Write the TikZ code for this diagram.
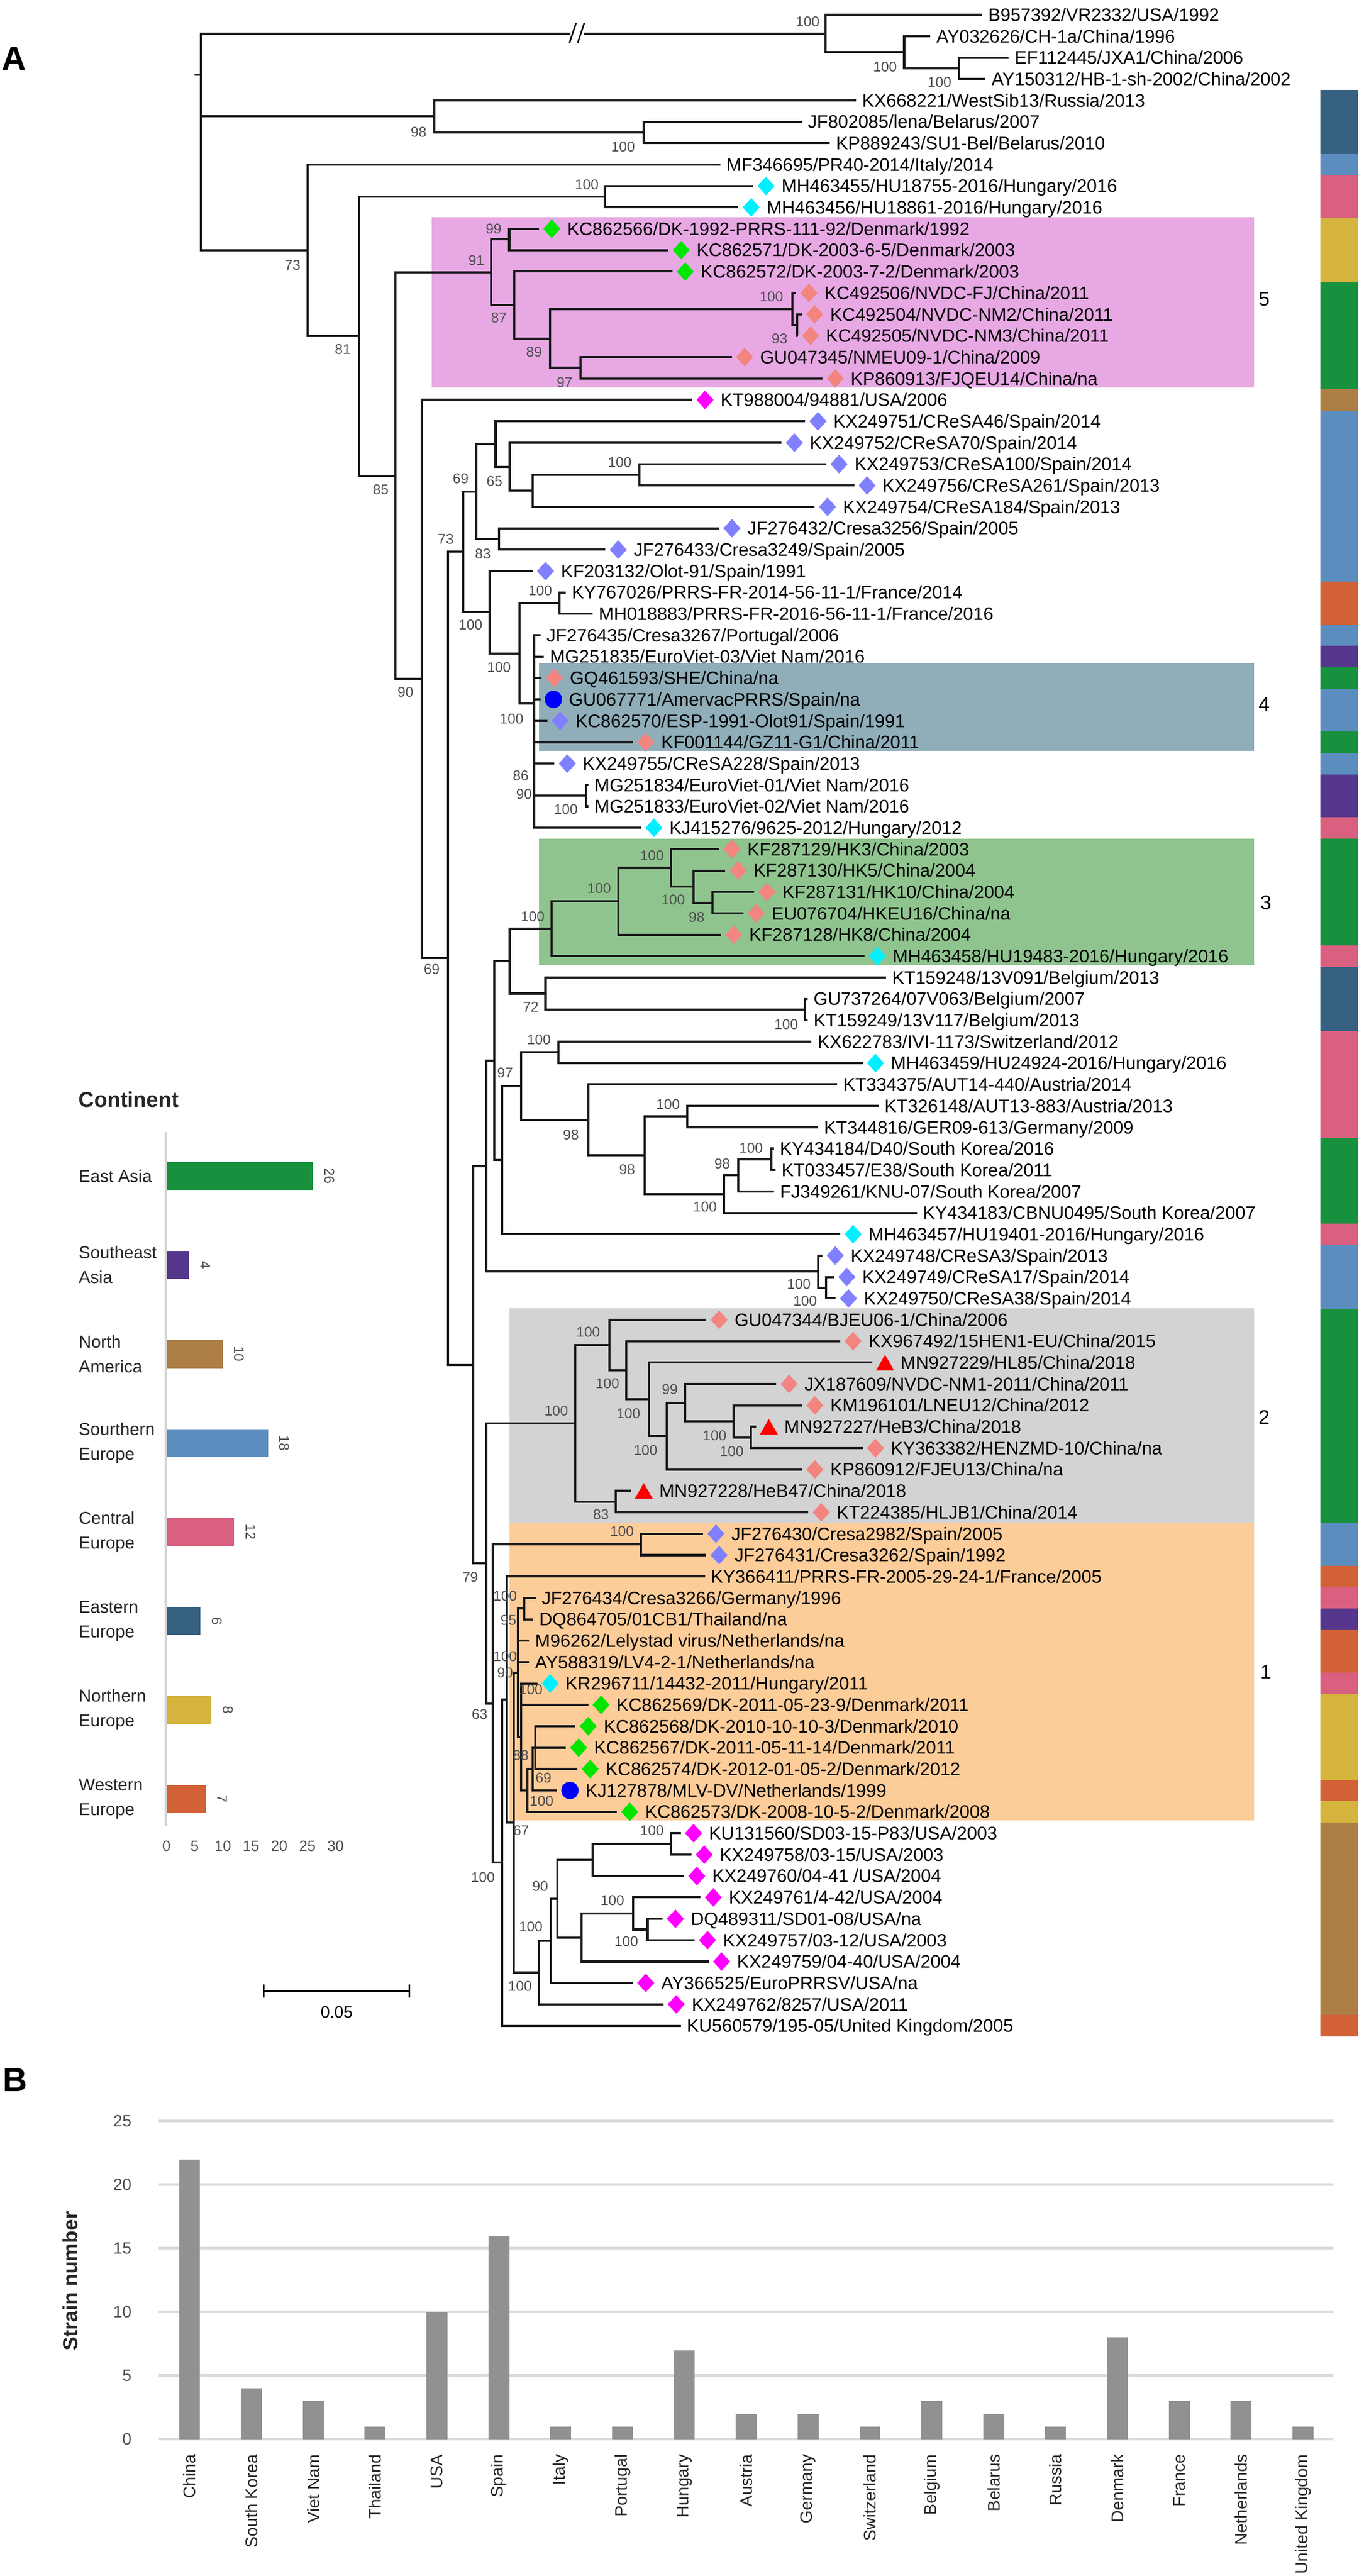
\documentclass[tikz,border=0pt]{standalone}
\usepackage{fontspec}
\setmainfont{Liberation Sans}
\usetikzlibrary{shapes.geometric,calc}
\definecolor{cEA}{RGB}{24,145,62}
\definecolor{cSEA}{RGB}{84,54,141}
\definecolor{cNA}{RGB}{173,126,69}
\definecolor{cSE}{RGB}{91,141,191}
\definecolor{cCE}{RGB}{217,96,127}
\definecolor{cEE}{RGB}{53,96,127}
\definecolor{cNE}{RGB}{212,180,60}
\definecolor{cWE}{RGB}{210,97,54}
\definecolor{boxA}{RGB}{231,168,228}
\definecolor{boxB}{RGB}{143,174,186}
\definecolor{boxC}{RGB}{143,196,143}
\definecolor{boxD}{RGB}{211,211,211}
\definecolor{boxE}{RGB}{252,204,153}
\definecolor{mSal}{RGB}{242,133,128}
\definecolor{mLav}{RGB}{128,128,255}
\definecolor{mCya}{RGB}{0,240,255}
\definecolor{mGrn}{RGB}{0,230,0}
\definecolor{mMag}{RGB}{255,0,255}
\definecolor{bsgray}{RGB}{80,80,80}
\definecolor{barB}{RGB}{145,145,145}
\definecolor{gridB}{RGB}{218,218,218}
\definecolor{axisL}{RGB}{210,210,210}
\pgfmathdeclarefunction{lfy}{1}{\pgfmathparse{9+12.98*(#1-1)}}
\tikzset{
  br/.style={line width=1.3pt, black!90},
  lab/.style={anchor=base west, inner sep=0pt, font=\fontsize{11}{13}\selectfont},
  bs/.style={inner sep=0pt, font=\fontsize{8.6}{10}\selectfont, text=bsgray},
  mdia/.style={diamond, inner sep=0pt, minimum width=10.5pt, minimum height=11.5pt, draw=none},
  msal/.style={mdia, fill=mSal},
  mlav/.style={mdia, fill=mLav},
  mcya/.style={mdia, fill=mCya},
  mgrn/.style={mdia, fill=mGrn},
  mmag/.style={mdia, fill=mMag},
  mcirc/.style={circle, inner sep=0pt, minimum size=10.5pt, fill=blue},
  mtri/.style={regular polygon, regular polygon sides=3, minimum size=12.7pt, inner sep=0pt, fill=red, yshift=-1.6pt},
  cladenum/.style={inner sep=0pt, font=\fontsize{12}{14}\selectfont},
  panel/.style={inner sep=0pt, font=\bfseries\fontsize{20.5}{24}\selectfont},
  leglab/.style={anchor=west, align=left, inner sep=0pt, font=\fontsize{10.5}{15}\selectfont, text=black!85},
  cntlab/.style={rotate=90, anchor=east, inner sep=0pt, font=\fontsize{10.2}{12}\selectfont, text=black!85},
}
\newcommand\TipN[4]{%
  \coordinate (#1) at (#2,{lfy(#3)});
  \node[lab] (#1l) at ([xshift=3.5pt,yshift=-3.9pt]#1) {#4};}
\newcommand\TipM[5]{%
  \coordinate (#1) at (#2,{lfy(#3)});
  \node[#4] (#1m) at ([xshift=7.8pt]#1) {};
  \node[lab] (#1l) at ([xshift=17pt,yshift=-3.9pt]#1) {#5};}
\newcommand\Nd[3]{\coordinate (#1) at (#2,{lfy(#3)});}
\newcommand\Kids[2]{\foreach \cc in {#2} {\draw[br] (#1) |- (\cc);}}
\begin{document}
\begin{tikzpicture}[x=1pt,y=-1pt]
\useasboundingbox (0,0) rectangle (827.3,1563);
\fill[white] (0,0) rectangle (827.3,1563);

% clade boxes
\fill[boxA] (262,{lfy(10.45)}) rectangle (761,{lfy(18.42)});
\fill[boxB] (327,{lfy(31.3)}) rectangle (761,{lfy(35.4)});
\fill[boxC] (327,{lfy(39.5)}) rectangle (761,{lfy(45.4)});
\fill[boxD] (309.3,{lfy(61.45)}) rectangle (761,{lfy(71.5)});
\fill[boxE] (309.3,{lfy(71.5)}) rectangle (761,{lfy(85.4)});
\node[cladenum] (c5) at (767,181.5) {5};
\node[cladenum] (c4) at (767,427.4) {4};
\node[cladenum] (c3) at (768,547.7) {3};
\node[cladenum] (c2) at (767,860) {2};
\node[cladenum] (c1) at (768,1014.3) {1};

% continent strip
\foreach \a/\b/\c in {5/7/cEE,8/8/cSE,9/10/cCE,11/13/cNE,14/18/cEA,19/19/cNA,20/27/cSE,28/29/cWE,30/30/cSE,31/31/cSEA,32/32/cEA,33/34/cSE,35/35/cEA,36/36/cSE,37/38/cSEA,39/39/cCE,40/44/cEA,45/45/cCE,46/48/cEE,49/53/cCE,54/57/cEA,58/58/cCE,59/61/cSE,62/71/cEA,72/73/cSE,74/74/cWE,75/75/cCE,76/76/cSEA,77/78/cWE,79/79/cCE,80/83/cNE,84/84/cWE,85/85/cNE,86/94/cNA,95/95/cWE}
  {\fill[\c] (801,{lfy(\a-0.5)}) rectangle (824,{lfy(\b+0.5)});}

\node[panel] (labA) at (8.5,35.6) {A};

% tips
\TipN{t1}{596}{1}{B957392/VR2332/USA/1992}
\TipN{t2}{564.5}{2}{AY032626/CH-1a/China/1996}
\TipN{t3}{612}{3}{EF112445/JXA1/China/2006}
\TipN{t4}{598}{4}{AY150312/HB-1-sh-2002/China/2002}
\TipN{t5}{519.4}{5}{KX668221/WestSib13/Russia/2013}
\TipN{t6}{486.5}{6}{JF802085/lena/Belarus/2007}
\TipN{t7}{503.5}{7}{KP889243/SU1-Bel/Belarus/2010}
\TipN{t8}{437}{8}{MF346695/PR40-2014/Italy/2014}
\TipM{t9}{457}{9}{mcya}{MH463455/HU18755-2016/Hungary/2016}
\TipM{t10}{448}{10}{mcya}{MH463456/HU18861-2016/Hungary/2016}
\TipM{t11}{327}{11}{mgrn}{KC862566/DK-1992-PRRS-111-92/Denmark/1992}
\TipM{t12}{405.5}{12}{mgrn}{KC862571/DK-2003-6-5/Denmark/2003}
\TipM{t13}{408}{13}{mgrn}{KC862572/DK-2003-7-2/Denmark/2003}
\TipM{t14}{483}{14}{msal}{KC492506/NVDC-FJ/China/2011}
\TipM{t15}{486.5}{15}{msal}{KC492504/NVDC-NM2/China/2011}
\TipM{t16}{484}{16}{msal}{KC492505/NVDC-NM3/China/2011}
\TipM{t17}{444}{17}{msal}{GU047345/NMEU09-1/China/2009}
\TipM{t18}{499}{18}{msal}{KP860913/FJQEU14/China/na}
\TipM{t19}{420}{19}{mmag}{KT988004/94881/USA/2006}
\TipM{t20}{488.5}{20}{mlav}{KX249751/CReSA46/Spain/2014}
\TipM{t21}{474.2}{21}{mlav}{KX249752/CReSA70/Spain/2014}
\TipM{t22}{501.3}{22}{mlav}{KX249753/CReSA100/Spain/2014}
\TipM{t23}{518.3}{23}{mlav}{KX249756/CReSA261/Spain/2013}
\TipM{t24}{494.3}{24}{mlav}{KX249754/CReSA184/Spain/2013}
\TipM{t25}{436.3}{25}{mlav}{JF276432/Cresa3256/Spain/2005}
\TipM{t26}{367.3}{26}{mlav}{JF276433/Cresa3249/Spain/2005}
\TipM{t27}{323.2}{27}{mlav}{KF203132/Olot-91/Spain/1991}
\TipN{t28}{343.3}{28}{KY767026/PRRS-FR-2014-56-11-1/France/2014}
\TipN{t29}{359.6}{29}{MH018883/PRRS-FR-2016-56-11-1/France/2016}
\TipN{t30}{328}{30}{JF276435/Cresa3267/Portugal/2006}
\TipN{t31}{330}{31}{MG251835/EuroViet-03/Viet Nam/2016}
\TipM{t32}{328.6}{32}{msal}{GQ461593/SHE/China/na}
\TipM{t33}{328}{33}{mcirc}{GU067771/AmervacPRRS/Spain/na}
\TipM{t34}{332}{34}{mlav}{KC862570/ESP-1991-Olot91/Spain/1991}
\TipM{t35}{384}{35}{msal}{KF001144/GZ11-G1/China/2011}
\TipM{t36}{336.4}{36}{mlav}{KX249755/CReSA228/Spain/2013}
\TipN{t37}{357}{37}{MG251834/EuroViet-01/Viet Nam/2016}
\TipN{t38}{357}{38}{MG251833/EuroViet-02/Viet Nam/2016}
\TipM{t39}{389}{39}{mcya}{KJ415276/9625-2012/Hungary/2012}
\TipM{t40}{436.3}{40}{msal}{KF287129/HK3/China/2003}
\TipM{t41}{440.1}{41}{msal}{KF287130/HK5/China/2004}
\TipM{t42}{457.6}{42}{msal}{KF287131/HK10/China/2004}
\TipM{t43}{451}{43}{msal}{EU076704/HKEU16/China/na}
\TipM{t44}{437.4}{44}{msal}{KF287128/HK8/China/2004}
\TipM{t45}{524.5}{45}{mcya}{MH463458/HU19483-2016/Hungary/2016}
\TipN{t46}{537.7}{46}{KT159248/13V091/Belgium/2013}
\TipN{t47}{490}{47}{GU737264/07V063/Belgium/2007}
\TipN{t48}{490}{48}{KT159249/13V117/Belgium/2013}
\TipN{t49}{492.4}{49}{KX622783/IVI-1173/Switzerland/2012}
\TipM{t50}{523.4}{50}{mcya}{MH463459/HU24924-2016/Hungary/2016}
\TipN{t51}{507.9}{51}{KT334375/AUT14-440/Austria/2014}
\TipN{t52}{533}{52}{KT326148/AUT13-883/Austria/2013}
\TipN{t53}{496.3}{53}{KT344816/GER09-613/Germany/2009}
\TipN{t54}{469.5}{54}{KY434184/D40/South Korea/2016}
\TipN{t55}{470.5}{55}{KT033457/E38/South Korea/2011}
\TipN{t56}{469.6}{56}{FJ349261/KNU-07/South Korea/2007}
\TipN{t57}{556.3}{57}{KY434183/CBNU0495/South Korea/2007}
\TipM{t58}{509.8}{58}{mcya}{MH463457/HU19401-2016/Hungary/2016}
\TipM{t59}{499}{59}{mlav}{KX249748/CReSA3/Spain/2013}
\TipM{t60}{506}{60}{mlav}{KX249749/CReSA17/Spain/2014}
\TipM{t61}{507}{61}{mlav}{KX249750/CReSA38/Spain/2014}
\TipM{t62}{428.5}{62}{msal}{GU047344/BJEU06-1/China/2006}
\TipM{t63}{509.8}{63}{msal}{KX967492/15HEN1-EU/China/2015}
\TipM{t64}{529.2}{64}{mtri}{MN927229/HL85/China/2018}
\TipM{t65}{471}{65}{msal}{JX187609/NVDC-NM1-2011/China/2011}
\TipM{t66}{486.6}{66}{msal}{KM196101/LNEU12/China/2012}
\TipM{t67}{458.7}{67}{mtri}{MN927227/HeB3/China/2018}
\TipM{t68}{523.4}{68}{msal}{KY363382/HENZMD-10/China/na}
\TipM{t69}{486.6}{69}{msal}{KP860912/FJEU13/China/na}
\TipM{t70}{382.8}{70}{mtri}{MN927228/HeB47/China/2018}
\TipM{t71}{490.5}{71}{msal}{KT224385/HLJB1/China/2014}
\TipM{t72}{426.6}{72}{mlav}{JF276430/Cresa2982/Spain/2005}
\TipM{t73}{428.5}{73}{mlav}{JF276431/Cresa3262/Spain/1992}
\TipN{t74}{427.7}{74}{KY366411/PRRS-FR-2005-29-24-1/France/2005}
\TipN{t75}{325}{75}{JF276434/Cresa3266/Germany/1996}
\TipN{t76}{323.5}{76}{DQ864705/01CB1/Thailand/na}
\TipN{t77}{321}{77}{M96262/Lelystad virus/Netherlands/na}
\TipN{t78}{321}{78}{AY588319/LV4-2-1/Netherlands/na}
\TipM{t79}{326}{79}{mcya}{KR296711/14432-2011/Hungary/2011}
\TipM{t80}{356.9}{80}{mgrn}{KC862569/DK-2011-05-23-9/Denmark/2011}
\TipM{t81}{349.1}{81}{mgrn}{KC862568/DK-2010-10-10-3/Denmark/2010}
\TipM{t82}{343.3}{82}{mgrn}{KC862567/DK-2011-05-11-14/Denmark/2011}
\TipM{t83}{350.3}{83}{mgrn}{KC862574/DK-2012-01-05-2/Denmark/2012}
\TipM{t84}{338}{84}{mcirc}{KJ127878/MLV-DV/Netherlands/1999}
\TipM{t85}{374.3}{85}{mgrn}{KC862573/DK-2008-10-5-2/Denmark/2008}
\TipM{t86}{413}{86}{mmag}{KU131560/SD03-15-P83/USA/2003}
\TipM{t87}{419.5}{87}{mmag}{KX249758/03-15/USA/2003}
\TipM{t88}{415}{88}{mmag}{KX249760/04-41 /USA/2004}
\TipM{t89}{425}{89}{mmag}{KX249761/4-42/USA/2004}
\TipM{t90}{402}{90}{mmag}{DQ489311/SD01-08/USA/na}
\TipM{t91}{421.5}{91}{mmag}{KX249757/03-12/USA/2003}
\TipM{t92}{430}{92}{mmag}{KX249759/04-40/USA/2004}
\TipM{t93}{384}{93}{mmag}{AY366525/EuroPRRSV/USA/na}
\TipM{t94}{402.5}{94}{mmag}{KX249762/8257/USA/2011}
\TipN{t95}{413}{95}{KU560579/195-05/United Kingdom/2005}

% internal nodes
\Nd{root}{122}{3.8}
\Nd{nOg1}{501}{1.875}\Nd{nOg2}{548.6}{2.75}\Nd{nOg3}{582}{3.5}
\Nd{nEE1}{263.4}{5.75}\Nd{nEE2}{390.6}{6.5}
\Nd{n73}{186.6}{12.01}\Nd{n81}{218}{16.02}\Nd{nHu}{367}{9.5}
\Nd{n85}{240}{22.54}\Nd{n91}{298}{13.03}\Nd{n99}{309}{11.5}
\Nd{n87}{312}{14.5625}\Nd{n89}{333.6}{16.125}
\Nd{nNV1}{480.8}{14.75}\Nd{nNV2}{483.5}{15.5}\Nd{n97}{352.2}{17.5}
\Nd{n90}{256}{32.05}\Nd{n69L}{271.7}{45.10}\Nd{n73b}{281}{26.10}
\Nd{n69u}{289}{23.28}\Nd{n65}{300.7}{21.0625}\Nd{nSA}{309.3}{22.125}
\Nd{nSB}{323.2}{23.25}\Nd{nS100}{388}{22.5}\Nd{n83}{302.7}{25.5}
\Nd{nA100}{297}{28.925}\Nd{nB}{315.1}{30.85}\Nd{nFr}{339.5}{28.5}
\Nd{nP}{324}{33.2}\Nd{nMG}{355.7}{37.5}
\Nd{nNa}{287.2}{64.105}\Nd{n705}{295}{54.82}\Nd{n643}{300}{49.887}
\Nd{n582}{309.3}{45.235}\Nd{nC3}{334.8}{43.72}\Nd{nHK1}{375.1}{42.4375}
\Nd{nHK2}{407.2}{40.875}\Nd{nHK3}{420.8}{41.75}\Nd{nHK4}{432.4}{42.5}
\Nd{nBe1}{331}{46.75}\Nd{nBe2}{488.5}{47.5}
\Nd{n704}{304.6}{54.539}\Nd{n658}{316.2}{51.078}\Nd{nSw}{338.7}{49.5}
\Nd{n680}{356.9}{52.656}\Nd{nAK}{391}{54.3125}\Nd{nAu}{416.9}{52.5}
\Nd{nK1}{439.4}{56.125}\Nd{nK2}{447.9}{55.25}\Nd{nK3}{468}{54.5}
\Nd{nCR1}{496.3}{59.75}\Nd{nCR2}{501.3}{60.5}
\Nd{n79}{295}{73.39}\Nd{nC2}{349.1}{66.84}
\Nd{nG0}{369.7}{63.18}\Nd{nG1}{380.1}{64.36}\Nd{nG2}{393.7}{65.72}
\Nd{nG3}{404.5}{67.4375}\Nd{nG4}{415.7}{65.875}\Nd{nG5}{445.2}{66.75}
\Nd{nG6}{455.6}{67.5}\Nd{nG7}{373.5}{70.5}
\Nd{n63}{298.8}{79.94}\Nd{nCr}{389}{72.5}\Nd{nC100}{304.6}{87.377}
\Nd{nBb}{307.7}{79.754}\Nd{nC}{311.6}{85.508}\Nd{nLR}{314.3}{78.5}
\Nd{nP1}{318}{75.5}\Nd{nL2}{316.2}{81.5}\Nd{nL3}{320}{84}
\Nd{nL4}{323.2}{83}\Nd{nL5}{324.7}{82}
\Nd{nU0}{327}{92.516}\Nd{nU1}{334.4}{91.03}\Nd{nU2}{338.3}{89.06}
\Nd{nU90}{359.6}{87.25}\Nd{nU100}{407.2}{86.5}\Nd{nU3}{353}{90.875}
\Nd{nU4}{384}{89.75}\Nd{nU5}{392.9}{90.5}

% branches
\draw[br] (root) -- ++(-4,0);
\Kids{root}{nOg1,nEE1,n73}
\Kids{nOg1}{t1,nOg2}\Kids{nOg2}{t2,nOg3}\Kids{nOg3}{t3,t4}
\Kids{nEE1}{t5,nEE2}\Kids{nEE2}{t6,t7}
\Kids{n73}{t8,n81}\Kids{n81}{nHu,n85}\Kids{nHu}{t9,t10}
\Kids{n85}{n91,n90}\Kids{n91}{n99,n87}\Kids{n99}{t11,t12}
\Kids{n87}{t13,n89}\Kids{n89}{nNV1,n97}\Kids{nNV1}{t14,nNV2}
\Kids{nNV2}{t15,t16}\Kids{n97}{t17,t18}
\Kids{n90}{t19,n69L}\Kids{n69L}{n73b,nNa}\Kids{n73b}{n69u,nA100}
\Kids{n69u}{n65,n83}\Kids{n65}{t20,nSA}\Kids{nSA}{t21,nSB}
\Kids{nSB}{nS100,t24}\Kids{nS100}{t22,t23}\Kids{n83}{t25,t26}
\Kids{nA100}{t27,nB}\Kids{nB}{nFr,nP}\Kids{nFr}{t28,t29}
\Kids{nP}{t30,t31,t32,t33,t34,t35,t36,nMG,t39}\Kids{nMG}{t37,t38}
\Kids{nNa}{n705,n79}\Kids{n705}{n643,nCR1}\Kids{n643}{n582,n704}
\Kids{n582}{nC3,nBe1}\Kids{nC3}{nHK1,t45}\Kids{nHK1}{nHK2,t44}
\Kids{nHK2}{t40,nHK3}\Kids{nHK3}{t41,nHK4}\Kids{nHK4}{t42,t43}
\Kids{nBe1}{t46,nBe2}\Kids{nBe2}{t47,t48}
\Kids{n704}{n658,t58}\Kids{n658}{nSw,n680}\Kids{nSw}{t49,t50}
\Kids{n680}{t51,nAK}\Kids{nAK}{nAu,nK1}\Kids{nAu}{t52,t53}
\Kids{nK1}{nK2,t57}\Kids{nK2}{nK3,t56}\Kids{nK3}{t54,t55}
\Kids{nCR1}{t59,nCR2}\Kids{nCR2}{t60,t61}
\Kids{n79}{nC2,n63}\Kids{nC2}{nG0,nG7}\Kids{nG0}{t62,nG1}
\Kids{nG1}{t63,nG2}\Kids{nG2}{t64,nG3}\Kids{nG3}{nG4,t69}
\Kids{nG4}{t65,nG5}\Kids{nG5}{t66,nG6}\Kids{nG6}{t67,t68}
\Kids{nG7}{t70,t71}
\Kids{n63}{nCr,nC100}\Kids{nCr}{t72,t73}\Kids{nC100}{nBb,t95}
\Kids{nBb}{t74,nC}\Kids{nC}{nLR,nU0}\Kids{nLR}{nP1,t77,t78,nL2}
\Kids{nP1}{t75,t76}\Kids{nL2}{t79,t80,nL3}\Kids{nL3}{nL4,t85}
\Kids{nL4}{nL5,t84}\Kids{nL5}{t81,t82,t83}
\Kids{nU0}{nU1,t94}\Kids{nU1}{nU2,t93}\Kids{nU2}{nU90,nU3}
\Kids{nU90}{nU100,t88}\Kids{nU100}{t86,t87}\Kids{nU3}{nU4,t92}
\Kids{nU4}{t89,nU5}\Kids{nU5}{t90,t91}

% break mark on the outgroup branch
\fill[white] (346,15) rectangle (354,25);
\draw[line width=0.9pt] (345.5,26) -- (349.5,14);
\draw[line width=0.9pt] (350.5,26) -- (354.5,14);

% bootstrap values
\foreach \t/\x/\y [count=\i] in {100/490/13,100/537/40.5,100/570/50,98/254/80,100/378/89,100/356/112,
 73/177.5/161,81/208/212,85/231/297,90/246/420,69/262/588,99/299.5/138.7,91/289/158,87/302.7/192.7,
 89/324/213.5,97/342.6/232,100/468/180,93/473/205.5,69/279.5/290.5,65/300/292,100/376/280.4,
 73/270.5/327,83/293/336,100/285.5/379,100/327.8/358.4,100/302.7/405,100/310.4/436.3,86/316/470.6,
 90/318/481.7,100/343.3/491,100/363.5/539,100/395.6/519,100/323.2/556,100/408.4/546.1,98/422.7/556.6,
 72/322/611,100/477/621.6,100/327/630.8,97/306.5/651,98/346.4/688.5,100/405.3/670,98/380.5/709.5,
 100/455.6/696.4,98/438.2/706,100/427.7/732.4,100/484.7/779.3,100/488.5/789.4,100/356.9/808.1,
 100/368.5/839.4,99/406.4/843.1,100/337.5/856,100/381.3/857.8,100/433.6/871,100/391.7/880,
 100/444/880.5,83/364.6/919,100/377.4/929,79/285.3/957,100/306.5/968.2,95/308.5/983,100/306.5/1005,
 90/306.5/1015,100/322/1025.3,63/291/1040,88/316/1065,69/329.8/1078.8,100/328.6/1092.9,67/316.2/1110.7,
 100/395.6/1110.7,90/327.8/1144.4,100/371.6/1153,100/380/1178,100/322/1169,100/293/1139,100/315.5/1205}
 {\node[bs] (bs\i) at (\x,\y) {\t};}

% scale bar
\coordinate (sbL) at (160,1208);
\coordinate (sbR) at (248.5,1208);
\draw[line width=1.1pt] (sbL) -- (sbR);
\draw[line width=1pt] ([yshift=4pt]sbL) -- ([yshift=-4pt]sbL);
\draw[line width=1pt] ([yshift=4pt]sbR) -- ([yshift=-4pt]sbR);
\node[inner sep=0pt, font=\fontsize{10}{12}\selectfont] (sbT) at (204.3,1221) {0.05};

% continent legend
\node[anchor=west, inner sep=0pt, font=\bfseries\fontsize{13}{15}\selectfont, text=black!85] (legT) at (47.6,667) {Continent};
\draw[axisL, line width=1.5pt] (100.5,687) -- (100.5,1108);
\foreach \lab/\v/\c/\y [count=\i] in {East Asia/26/cEA/713.5, Southeast\\Asia/4/cSEA/767.5, North\\America/10/cNA/821.5,
  Sourthern\\Europe/18/cSE/875.5, Central\\Europe/12/cCE/929.5, Eastern\\Europe/6/cEE/983.5,
  Northern\\Europe/8/cNE/1037.5, Western\\Europe/7/cWE/1091.5}
{
  \node[leglab] (leg\i) at (47.6,\y) {\lab};
  \fill[\c] (101.5,\y-8.5) rectangle ({101+3.42*\v},\y+8.5);
  \node[rotate=-90, inner sep=0pt, font=\fontsize{8.5}{10}\selectfont, text=bsgray] (legv\i) at ({101+3.42*\v+10},\y) {\v};
}
\foreach \v [count=\i] in {0,5,10,15,20,25,30}
  {\node[inner sep=0pt, font=\fontsize{9}{10}\selectfont, text=bsgray] (legx\i) at ({101+3.42*\v},1120) {\v};}

% panel B
\node[panel] (labB) at (9,1262) {B};
\foreach \v [count=\i] in {0,5,10,15,20,25}
{
  \draw[gridB, line width=1.6pt] (96.5,{1480-7.72*\v}) -- (809,{1480-7.72*\v});
  \node[anchor=east, inner sep=0pt, font=\fontsize{10}{12}\selectfont, text=bsgray] (by\i) at (80,{1480-7.72*\v}) {\v};
}
\foreach \n/\v [count=\i] in {China/22,South Korea/4,Viet Nam/3,Thailand/1,USA/10,Spain/16,Italy/1,Portugal/1,
  Hungary/7,Austria/2,Germany/2,Switzerland/1,Belgium/3,Belarus/2,Russia/1,Denmark/8,France/3,Netherlands/3,United Kingdom/1}
{
  \pgfmathsetmacro\xc{115+37.53*(\i-1)}
  \fill[barB] (\xc-6.35,1480) rectangle (\xc+6.35,{1480-7.72*\v});
  \node[cntlab] (bx\i) at (\xc,1489) {\n};
}
\node[rotate=90, inner sep=0pt, font=\bfseries\fontsize{12.5}{14}\selectfont, text=black!85] (bylab) at (42.5,1384) {Strain number};
\end{tikzpicture}
\end{document}
